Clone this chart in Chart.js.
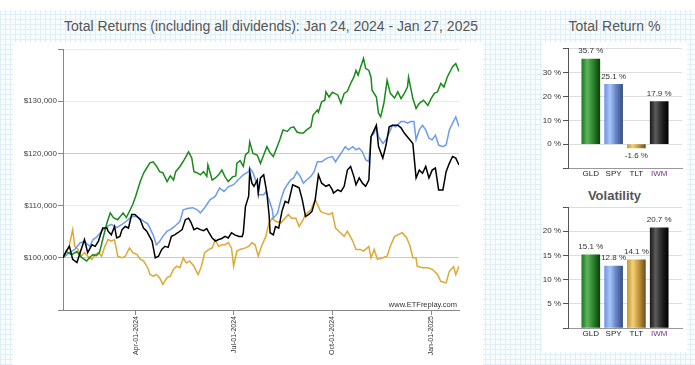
<!DOCTYPE html>
<html>
<head>
<meta charset="utf-8">
<script src="https://cdn.jsdelivr.net/npm/chart.js@4.4.1/dist/chart.umd.min.js"></script>
<style>
  html,body{margin:0;padding:0;width:695px;height:365px;overflow:hidden;background:#fff;font-family:"Liberation Sans",Arial,sans-serif;}
  .grid{position:absolute;left:0;top:10px;width:695px;height:355px;
    background-color:#fafdfe;
    background-image:repeating-linear-gradient(0deg,#e0eff7 0,#e0eff7 1px,transparent 1px,transparent 5px),
                     repeating-linear-gradient(90deg,#e0eff7 0,#e0eff7 1px,transparent 1px,transparent 5px);}
  .panel{position:absolute;background:#fff;}
  .title{position:absolute;color:#555;font-size:14px;white-space:nowrap;text-align:center;}
  canvas{position:absolute;}
</style>
</head>
<body>
<div class="grid"></div>
<div class="panel" style="left:13px;top:42px;width:470px;height:323px"></div>
<div class="panel" style="left:542px;top:42px;width:145px;height:310px"></div>
<div class="title" style="left:13px;top:18px;width:516px">Total Returns (including all dividends): Jan 24, 2024 - Jan 27, 2025</div>
<div class="title" style="left:542px;top:18px;width:145px">Total Return %</div>
<div class="title" style="left:542px;top:188px;width:145px;font-weight:bold;font-size:13px">Volatility</div>
<canvas id="main" width="470" height="323" style="left:13px;top:42px"></canvas>
<canvas id="ret" width="145" height="140" style="left:542px;top:42px"></canvas>
<canvas id="vol" width="145" height="145" style="left:542px;top:200px"></canvas>
<script>
// growth of $100,000 - [days since Jan 24 2024, value]
const gld = [[0,100000],[3,101200],[8,100600],[13,101200],[17,100100],[22,99400],[25,100100],[28,100600],[31,100400],[34,101000],[37,103500],[41,106700],[44,108600],[47,107700],[51,107300],[56,108600],[59,107700],[65,110200],[68,112000],[72,114600],[75,116200],[78,117200],[81,118200],[84,118400],[87,117600],[90,116500],[93,116300],[97,114600],[100,115700],[103,114900],[105,116500],[109,117500],[113,118800],[117,120300],[120,119100],[122,116500],[125,116300],[128,115900],[131,116500],[134,115600],[135,117800],[139,114900],[142,115300],[145,115900],[148,116800],[151,115500],[154,114600],[158,115500],[161,115700],[162,118100],[165,118600],[168,117500],[170,119700],[173,120300],[174,122200],[177,120000],[181,119700],[184,118100],[187,119700],[190,121300],[193,120100],[196,119400],[199,121000],[202,122600],[205,124500],[209,124200],[212,124900],[215,125100],[218,124100],[221,123900],[224,123900],[227,124500],[231,125100],[233,127300],[237,128300],[238,127900],[241,129900],[244,130200],[245,131800],[248,130800],[251,131700],[256,131200],[259,129600],[262,131500],[265,131900],[268,133400],[271,134600],[273,135900],[275,135000],[277,136300],[280,138200],[282,136300],[285,135900],[287,134600],[288,132100],[292,130800],[294,127700],[296,127000],[299,129600],[302,134000],[305,131500],[309,130600],[312,131800],[315,130500],[318,131500],[321,132700],[322,134600],[326,130500],[329,128600],[332,129600],[336,130200],[340,129200],[343,130500],[346,131500],[349,131800],[352,133400],[355,132700],[358,134600],[363,136600],[366,137200],[369,135700]];
const spy = [[0,100000],[6,101000],[11,101600],[16,102900],[20,103100],[25,102200],[28,103500],[31,103900],[36,105100],[41,106000],[45,106400],[50,105800],[55,106400],[59,107000],[64,107900],[69,107900],[73,107300],[76,106900],[79,106500],[84,104400],[87,102500],[90,103100],[93,104100],[97,105100],[100,105400],[104,106000],[109,107000],[112,109200],[117,109500],[121,109600],[125,109200],[128,108600],[132,109600],[137,111100],[142,111800],[146,113400],[150,112700],[154,113600],[159,114000],[163,114900],[168,115900],[173,116500],[174,117200],[177,116300],[181,114000],[182,112100],[187,112100],[189,112700],[192,111100],[195,109200],[196,107600],[200,108600],[203,111100],[206,113000],[209,114000],[212,114900],[215,115300],[218,116500],[221,115600],[224,114300],[227,114900],[231,115600],[234,116500],[237,118400],[241,118400],[246,119100],[251,119400],[254,118400],[257,119400],[260,120300],[263,121300],[266,120700],[270,121300],[273,120700],[276,121000],[279,120300],[282,118800],[285,118400],[287,123200],[290,123900],[292,125100],[294,123200],[298,121900],[301,122600],[304,123900],[307,125400],[310,125100],[315,126100],[318,126100],[321,125800],[324,126100],[327,126100],[329,122600],[332,124500],[335,125400],[338,124500],[341,122900],[344,122600],[347,123500],[350,121600],[354,121300],[357,121600],[360,124500],[363,125800],[366,127000],[369,125100]];
const tlt = [[0,100000],[3,101000],[6,102500],[9,105400],[11,102200],[14,101600],[17,100300],[20,101000],[23,100300],[27,99700],[30,100600],[33,101000],[36,100300],[39,102200],[42,103500],[45,103200],[48,103500],[51,100300],[55,100000],[58,100300],[62,101900],[65,101000],[69,100600],[72,99700],[75,99400],[79,98100],[81,96800],[84,96500],[87,96800],[90,96200],[93,94900],[97,96200],[100,96500],[103,97800],[106,98400],[109,98100],[112,100000],[115,99000],[118,99400],[122,98400],[125,97100],[126,96800],[129,98400],[132,101000],[136,101600],[139,101900],[142,103500],[145,102200],[148,102500],[151,102500],[154,102900],[157,101900],[159,98400],[162,101300],[165,101600],[170,101900],[173,102200],[176,102900],[179,102500],[182,100300],[185,102200],[189,104100],[192,106700],[195,107600],[198,107000],[203,106700],[207,107600],[210,108300],[213,107600],[217,107600],[220,106000],[223,107000],[226,108300],[231,109200],[235,111100],[238,109800],[240,108900],[243,108600],[248,108300],[251,108600],[254,105700],[257,105100],[262,104100],[265,105100],[270,103200],[273,101600],[277,101600],[280,101300],[285,102200],[287,100000],[290,101600],[293,99700],[298,100000],[302,100300],[305,102200],[309,104100],[312,104400],[316,104800],[320,103900],[323,102500],[326,100000],[329,100000],[330,98400],[335,98100],[340,98100],[344,97800],[349,96800],[352,95500],[357,95200],[360,97400],[363,98100],[364,98300],[366,96800],[369,98400]];
const iwm = [[0,100000],[3,101300],[6,102200],[9,99700],[13,99100],[16,101000],[19,102900],[20,103500],[23,101000],[27,102500],[30,102200],[33,103200],[36,105100],[37,105700],[41,105700],[42,105100],[45,104400],[48,106000],[50,103800],[53,104100],[55,105400],[58,106000],[61,105700],[64,108300],[67,108300],[69,107900],[72,107300],[75,105700],[78,105100],[83,103200],[86,100000],[89,100300],[92,101600],[95,102200],[98,102000],[101,104100],[104,104400],[107,104800],[111,105400],[114,107300],[117,107600],[119,106900],[122,105400],[125,105700],[128,105400],[131,105200],[134,105600],[136,104800],[139,103800],[142,103200],[145,103500],[148,103700],[151,104100],[154,103800],[157,104800],[160,104400],[164,104100],[167,104100],[168,104800],[170,109800],[173,111800],[174,116500],[176,114300],[178,113700],[181,114900],[182,112400],[184,115300],[187,115900],[190,112400],[192,108300],[193,104800],[196,104400],[198,106000],[201,105700],[204,108900],[207,110800],[210,110500],[214,114000],[217,113700],[220,113400],[223,111100],[226,107900],[229,108300],[232,108900],[235,111100],[238,115900],[241,114300],[245,113700],[248,114000],[251,113000],[252,112400],[256,113000],[259,112700],[262,113700],[265,116800],[268,117500],[271,115600],[273,114000],[276,115300],[279,114300],[282,113700],[285,114900],[287,123200],[290,124500],[292,125400],[294,121300],[298,119100],[301,121600],[304,125100],[307,125400],[312,125400],[315,124900],[318,123900],[322,122900],[326,121900],[329,115300],[332,116800],[335,116200],[338,117500],[341,115300],[344,116800],[347,117200],[350,113000],[354,113000],[357,116500],[360,118100],[363,119400],[366,119100],[369,117800]];

const tickDays = [68, 159, 251, 343];
const tickLabels = ['Apr-01-2024', 'Jul-01-2024', 'Oct-01-2024', 'Jan-01-2025'];
const yTicks = [90000, 100000, 110000, 120000, 130000, 140000];

const tickers = ['GLD', 'SPY', 'TLT', 'IWM'];
const totalReturn = [35.7, 25.1, -1.6, 17.9];
const volatility = [15.1, 12.8, 14.1, 20.7];

const lineColors = {GLD:'#1a8a1a', SPY:'#6d9bf1', TLT:'#e0a733', IWM:'#000000'};
const barStops = {
  GLD:['#1d7a1d','#5fb45f','#2f8a2f','#0c3f0c'],
  SPY:['#6f95e4','#aac5f5','#6a8acd','#38507f'],
  TLT:['#c79a30','#f1cf7a','#c99b3f','#6e5020'],
  IWM:['#1c1c1c','#5c5c5c','#2a2a2a','#000000']
};

Chart.defaults.font.family = '"Liberation Sans", Arial, sans-serif';
Chart.defaults.animation = false;

const toPts = arr => arr.map(p => ({x:p[0], y:p[1]}));

const watermark = {
  id:'watermark',
  afterDraw(chart){
    const c = chart.ctx, a = chart.chartArea;
    c.save();
    c.font = '7.5px "Liberation Sans", Arial';
    c.fillStyle = '#333';
    c.textAlign = 'right';
    c.textBaseline = 'alphabetic';
    c.fillText('www.ETFreplay.com', a.right - 2, a.bottom - 3);
    c.restore();
  }
};

new Chart(document.getElementById('main'), {
  type:'line',
  data:{ datasets:[
    {label:'IWM', data:toPts(iwm), borderColor:lineColors.IWM, order:0},
    {label:'GLD', data:toPts(gld), borderColor:lineColors.GLD, order:1},
    {label:'SPY', data:toPts(spy), borderColor:lineColors.SPY, order:2},
    {label:'TLT', data:toPts(tlt), borderColor:lineColors.TLT, order:3}
  ].map(d => Object.assign(d, {borderWidth:1.5, pointRadius:0, tension:0, fill:false}))},
  options:{
    responsive:false, devicePixelRatio:1,
    layout:{padding:{left:0, right:24, top:7, bottom:0}},
    plugins:{legend:{display:false}, tooltip:{enabled:false}},
    scales:{
      x:{
        type:'linear', min:0, max:369,
        afterBuildTicks(ax){ ax.ticks = tickDays.map(v => ({value:v})); },
        afterFit(ax){ ax.height = 55; },
        grid:{drawOnChartArea:false, tickLength:5, tickColor:'#888'},
        border:{color:'#888'},
        ticks:{autoSkip:false, minRotation:90, maxRotation:90, padding:1, color:'#333', font:{size:7},
          callback:v => tickLabels[tickDays.indexOf(v)]}
      },
      y:{
        min:90000, max:140000,
        afterBuildTicks(ax){ ax.ticks = yTicks.map(v => ({value:v})); },
        afterFit(ax){ ax.width = 50; },
        grid:{tickLength:5, tickColor:'#888',
          color:c => (c.tick && (c.tick.value === 100000 || c.tick.value === 120000)) ? '#cccccc' : '#e9e9e9'},
        border:{color:'#888'},
        ticks:{padding:1, color:'#444', font:{size:8},
          callback:v => (v === 90000 || v === 140000) ? '' : '$' + v.toLocaleString('en-US')}
      }
    }
  },
  plugins:[watermark]
});

function barGradient(ctx){
  const chart = ctx.chart, a = chart.chartArea;
  if(!a) return '#888';
  const name = tickers[ctx.dataIndex - 1];
  if(!name) return '#888';
  const cx = chart.scales.x.getPixelForValue(ctx.dataIndex);
  const g = chart.ctx.createLinearGradient(cx - 9, 0, cx + 9, 0);
  const s = barStops[name];
  g.addColorStop(0, s[0]); g.addColorStop(0.3, s[1]); g.addColorStop(0.6, s[2]); g.addColorStop(1, s[3]);
  return g;
}

const valueLabels = {
  id:'valueLabels',
  afterDatasetsDraw(chart){
    const c = chart.ctx;
    const meta = chart.getDatasetMeta(0);
    c.save();
    c.font = '8px "Liberation Sans", Arial';
    c.fillStyle = '#333';
    c.textAlign = 'center';
    c.textBaseline = 'middle';
    meta.data.forEach((el, i) => {
      const v = chart.data.datasets[0].data[i];
      if(v === null || v === undefined) return;
      const y = v >= 0 ? el.y - 8 : el.y + 8;
      c.fillText(v.toFixed(1) + ' %', el.x, y);
    });
    c.restore();
  }
};

function barChart(id, values, min, max, step, hideVals, xHeight, top){
  const labels = [''].concat(tickers, ['']);
  return new Chart(document.getElementById(id), {
    type:'bar',
    data:{labels, datasets:[{data:[null].concat(values, [null]), backgroundColor:barGradient, barThickness:18, borderWidth:0}]},
    options:{
      responsive:false, devicePixelRatio:1,
      layout:{padding:{left:0, right:5, top:top, bottom:0}},
      plugins:{legend:{display:false}, tooltip:{enabled:false}},
      scales:{
        x:{offset:false, grid:{display:false, drawTicks:false}, border:{color:'#999'},
          afterFit(ax){ ax.height = xHeight; },
          ticks:{autoSkip:false, maxRotation:0, padding:1, font:{size:8},
            color:c => (c.tick && c.tick.label === 'IWM') ? '#7b2d8e' : '#222'}},
        y:{min, max, grid:{color:'#dddddd', tickLength:5, tickColor:'#555'}, border:{color:'#555'},
          afterFit(ax){ ax.width = 26; },
          ticks:{stepSize:step, padding:2, color:'#333', font:{size:8},
            callback:v => hideVals.includes(v) ? '' : v + ' %'}}
      }
    },
    plugins:[valueLabels]
  });
}

barChart('ret', totalReturn, -10, 40, 10, [-10, 40], 14, 6);
barChart('vol', volatility, 0, 25, 5, [0, 25], 17, 7);
</script>
</body>
</html>
